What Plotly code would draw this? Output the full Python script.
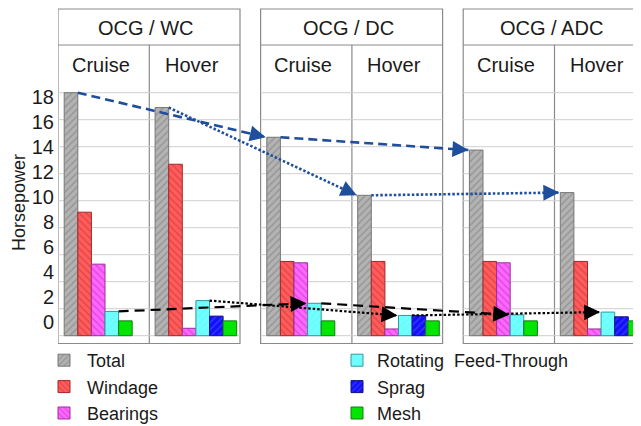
import math
import plotly.graph_objects as go

# chart data
configs = ["OCG / WC", "OCG / DC", "OCG / ADC"]
modes = ["Cruise", "Hover"]
series = ["Total", "Windage", "Bearings", "Rotating\u00a0 Feed-Through", "Sprag", "Mesh"]
# order of values: WC-Cruise, WC-Hover, DC-Cruise, DC-Hover, ADC-Cruise, ADC-Hover
total = [18.0, 16.9, 14.7, 10.4, 13.75, 10.6]
windage = [9.15, 12.7, 5.5, 5.5, 5.5, 5.5]
bearings = [5.3, 0.55, 5.4, 0.5, 5.4, 0.5]
rotating_ft = [1.8, 2.6, 2.4, 1.5, 1.55, 1.75]
sprag = [None, 1.45, None, 1.5, None, 1.4]
mesh = [1.1, 1.1, 1.1, 1.1, 1.1, 1.1]
y_ticks = [0, 2, 4, 6, 8, 10, 12, 14, 16, 18]
values = [total, windage, bearings, rotating_ft, sprag, mesh]

# styles
fills = ["#b3b3b3", "#ff5c5c", "#ff66ff", "#66ffff", "#1010ff", "#00e600"]
hatch_fg = ["#7a7a7a", "#c83232", "#c030c0", "#9cf5f5", "#5a5aff", "#00e600"]
hatch = ["/", "\\", "\\", "/", "/", ""]
outlines = ["#777777", "#a02828", "#9a309a", "#2f9a9a", "#101080", "#1a7a1a"]
FONT = "Liberation Sans, Arial, sans-serif"

# geometry, in window pixels (the page body adds an 8px margin)
OFF = 8
WIN_W, WIN_H = 641, 426
W, H = WIN_W - OFF, WIN_H - OFF
PL, PR, PT, PB = 58, 641, 8, 344
plot_h = PB - PT
zero_px, px_unit = 335.7, 13.5
lab_zero_px, lab_unit = 321.7, 12.48
panel_step, panel_w, split = 202.6, 182.0, 91.3
bar_w = 13.6
pad = [6.2, 5.8]

y_lo = -(PB - zero_px) / px_unit
y_hi = (zero_px - PT) / px_unit
y2_lo = -(PB - lab_zero_px) / lab_unit
y2_hi = (lab_zero_px - PT) / lab_unit


def ypaper(px):
    return (PB - px) / plot_h


def xpaper(px):
    return (px - PL) / (PR - PL)


# bar positions: each (config, mode) group packs its non-empty bars
bars = {}
for i in range(len(configs)):
    for m in range(len(modes)):
        g = i * len(modes) + m
        left = i * panel_step + (0 if m == 0 else split) + pad[m]
        slot = 0
        for k, vals in enumerate(values):
            if vals[g] is None:
                continue
            x0 = left + slot * bar_w
            bars[(k, g)] = (x0, x0 + bar_w, vals[g])
            slot += 1

fig = go.Figure()

for k, name in enumerate(series):
    xs, ys = [], []
    for g in range(len(configs) * len(modes)):
        if (k, g) in bars:
            x0, x1, v = bars[(k, g)]
            xs.append((x0 + x1) / 2)
            ys.append(v)
    fig.add_trace(go.Bar(
        x=xs, y=ys, width=[bar_w] * len(xs), name=name,
        legend="legend" if k < 3 else "legend2",
        marker=dict(color=fills[k],
                    line=dict(color=outlines[k], width=1),
                    pattern=dict(shape=hatch[k], fgcolor=hatch_fg[k],
                                 size=5, solidity=0.3)),
        hoverinfo="skip",
    ))

# trend arrows between total / rotating feed-through bars
chains = [(0, "#1f4e9c", ["9px,5px", "2.5px,2px"], 2.6),
          (3, "#000000", ["10px,6px", "2.5px,2px"], 2.2)]
arrows = []
for k, col, dashes, lw in chains:
    for m in range(len(modes)):
        for i in range(len(configs) - 1):
            a = bars[(k, i * len(modes) + m)]
            b = bars[(k, (i + 1) * len(modes) + m)]
            sx, sy = a[1], a[2]
            ex, ey = b[0] - 1, b[2]
            fig.add_trace(go.Scatter(
                x=[sx, ex], y=[sy, ey], mode="lines",
                line=dict(color=col, width=lw, dash=dashes[m]),
                showlegend=False, hoverinfo="skip",
            ))
            dx = sx - ex
            dy = -(sy - ey) * px_unit
            n = math.hypot(dx, dy)
            arrows.append(dict(
                x=ex, y=ey, xref="x", yref="y", text="", showarrow=True,
                ax=dx / n * 9, ay=dy / n * 9,
                arrowhead=2, arrowsize=1.45, arrowwidth=2.2, arrowcolor=col,
            ))

shapes = []
for i in range(len(configs)):
    p0 = i * panel_step
    p1 = p0 + panel_w
    for v in y_ticks:
        shapes.append(dict(type="line", xref="x", yref="y", x0=p0, x1=p1,
                           y0=v, y1=v, layer="below",
                           line=dict(color="#cfcfcf", width=1)))
    shapes.append(dict(type="rect", xref="x", yref="paper", x0=p0, x1=p1,
                       y0=ypaper(343.5), y1=ypaper(9), layer="below",
                       line=dict(color="#8a8a8a", width=1.2)))
    shapes.append(dict(type="line", xref="x", yref="paper", x0=p0, x1=p1,
                       y0=ypaper(45), y1=ypaper(45), layer="below",
                       line=dict(color="#8a8a8a", width=1.2)))
    shapes.append(dict(type="line", xref="x", yref="paper", x0=p0 + split,
                       x1=p0 + split, y0=ypaper(343.5), y1=ypaper(45),
                       layer="below", line=dict(color="#8a8a8a", width=1.2)))

texts = []
head = dict(xref="x", yref="paper", showarrow=False, xanchor="center",
            yanchor="middle", font=dict(size=20))
for i, c in enumerate(configs):
    p0 = i * panel_step
    texts.append(dict(head, x=p0 + panel_w / 2 - 3, y=ypaper(28), text=c))
    texts.append(dict(head, x=p0 + split / 2 - 3, y=ypaper(65), text=modes[0]))
    texts.append(dict(head, x=p0 + split + (panel_w - split) / 2 - 3,
                      y=ypaper(65), text=modes[1]))
texts.append(dict(x=xpaper(19), y=ypaper(203), xref="paper", yref="paper",
                  xanchor="center", yanchor="middle",
                  text="Horsepower", textangle=-90, showarrow=False,
                  font=dict(size=18)))

fig.update_layout(
    width=W, height=H,
    margin=dict(l=PL - OFF, r=WIN_W - PR, t=PT - OFF, b=WIN_H - PB,
                autoexpand=False),
    paper_bgcolor="white", plot_bgcolor="white",
    font=dict(family=FONT, size=20, color="#1a1a1a"),
    barmode="overlay",
    xaxis=dict(range=[0, PR - PL], visible=False),
    yaxis=dict(range=[y_lo, y_hi], showticklabels=False, showgrid=False,
               zeroline=False),
    yaxis2=dict(range=[y2_lo, y2_hi], overlaying="y", side="left",
                tickvals=y_ticks, showgrid=False, zeroline=False,
                ticks="", ticklabelstandoff=3, tickfont=dict(size=20)),
    legend=dict(x=xpaper(41), y=ypaper(342), xanchor="left", yanchor="top",
                itemwidth=36, font=dict(size=18), bgcolor="rgba(0,0,0,0)"),
    legend2=dict(x=xpaper(337), y=ypaper(342), xanchor="left", yanchor="top",
                 itemwidth=30, font=dict(size=18), bgcolor="rgba(0,0,0,0)"),
    shapes=shapes,
    annotations=texts + arrows,
)

# dummy trace so the label axis is drawn
fig.add_trace(go.Scatter(x=[None], y=[None], yaxis="y2", showlegend=False,
                         hoverinfo="skip"))

fig.write_html("out.html")
